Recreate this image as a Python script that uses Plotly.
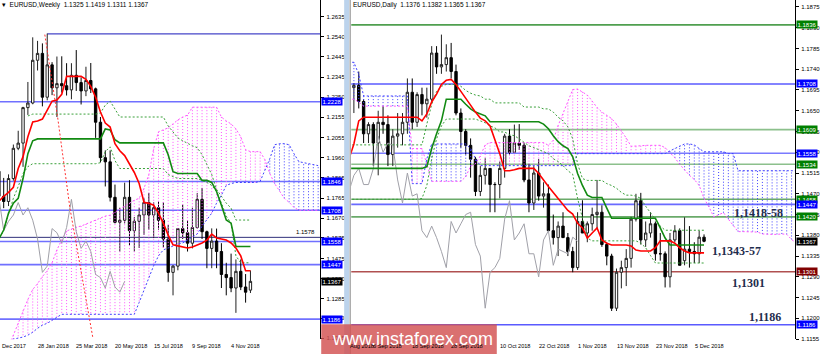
import plotly.graph_objects as go

W, H = 820, 357

# ---------------- WEEKLY DATA (index 0 = week of 26 Nov 2017) ----------------
W_OPEN = [1.1935,1.1895,1.1775,1.1750,1.1860,1.2005,1.2030,1.2200,1.2222,1.2427,1.2460,1.2250,1.2405,1.2295,
          1.2315,1.2305,1.2285,1.2355,1.2320,1.2280,1.2330,1.2290,1.2130,1.1960,1.1940,1.1770,1.1650,1.1660,
          1.1770,1.1610,1.1655,1.1685,1.1745,1.1685,1.1720,1.1660,1.1570,1.1410,1.1440,1.1620,1.1600,1.1550,
          1.1625,1.1760,1.1605,1.1525,1.1560,1.1510,1.1400,1.1385,1.1335,1.1415,1.1340,1.1325]
W_HIGH = [1.1961,1.1895,1.1863,1.1880,1.2023,1.2089,1.2204,1.2323,1.2537,1.2520,1.2508,1.2555,1.2418,1.2445,
          1.2446,1.2413,1.2413,1.2476,1.2345,1.2396,1.2414,1.2296,1.2155,1.1995,1.1995,1.1831,1.1720,1.1840,
          1.1852,1.1675,1.1720,1.1765,1.1791,1.1746,1.1750,1.1746,1.1637,1.1445,1.1622,1.1734,1.1660,1.1720,
          1.1790,1.1815,1.1610,1.1621,1.1620,1.1550,1.1456,1.1500,1.1472,1.1472,1.1402,1.1419]
W_LOW = [1.1829,1.1730,1.1718,1.1728,1.1850,1.1996,1.1916,1.2165,1.2216,1.2378,1.2206,1.2235,1.2260,1.2155,
         1.2272,1.2258,1.2240,1.2280,1.2215,1.2255,1.2270,1.2055,1.1937,1.1822,1.1750,1.1645,1.1510,1.1645,
         1.1540,1.1510,1.1527,1.1590,1.1615,1.1575,1.1615,1.1530,1.1365,1.1300,1.1420,1.1570,1.1510,1.1525,
         1.1620,1.1570,1.1430,1.1430,1.1430,1.1335,1.1300,1.1315,1.1216,1.1325,1.1265,1.1311]
W_CLOSE = [1.1895,1.1775,1.1750,1.1860,1.2005,1.2030,1.2200,1.2222,1.2427,1.2460,1.2250,1.2405,1.2295,1.2315,
           1.2305,1.2285,1.2355,1.2320,1.2280,1.2330,1.2290,1.2130,1.1960,1.1940,1.1770,1.1650,1.1660,1.1770,
           1.1610,1.1655,1.1685,1.1745,1.1685,1.1720,1.1660,1.1570,1.1410,1.1440,1.1620,1.1600,1.1550,1.1625,
           1.1760,1.1605,1.1525,1.1560,1.1510,1.1400,1.1385,1.1335,1.1415,1.1340,1.1315,1.1367]
W_TENKAN = [1.1732,1.1751,1.1775,1.1794,1.1818,1.1908,1.1965,1.2060,1.2131,1.2136,1.2145,1.2188,1.2231,1.2236,
            1.2264,1.2350,1.2350,1.2350,1.2350,1.2336,1.2302,1.2250,1.2179,1.2126,1.2107,1.2027,1.1993,1.1970,
            1.1931,1.1889,1.1836,1.1746,1.1741,1.1732,1.1694,1.1646,1.1589,1.1542,1.1537,1.1532,1.1527,1.1532,
            1.1542,1.1551,1.1565,1.1594,1.1575,1.1570,1.1565,1.1551,1.1527,1.1489,1.1418,1.1418]
W_KIJUN = [1.1551,1.1570,1.1613,1.1694,1.1742,1.1765,1.1860,1.1979,1.2041,1.2050,1.2050,1.2050,1.2050,1.2050,
           1.2050,1.2050,1.2050,1.2050,1.2050,1.2050,1.2050,1.2050,1.2050,1.2098,1.2093,1.2046,1.2031,1.2031,
           1.2031,1.2031,1.2031,1.2031,1.2031,1.2031,1.2031,1.2031,1.1974,1.1893,1.1884,1.1884,1.1884,1.1884,
           1.1884,1.1851,1.1851,1.1841,1.1798,1.1732,1.1661,1.1646,1.1534,1.1534,1.1534,1.1534]
W_SPAN_A = [1.0990,1.1010,1.1014,1.1052,1.1109,1.1166,1.1228,1.1280,1.1328,1.1356,1.1390,1.1418,1.1456,1.1518,
            1.1566,1.1608,1.1618,1.1627,1.1632,1.1642,1.1651,1.1661,1.1670,1.1680,1.1684,1.1699,1.1713,1.1727,
            1.1742,1.1756,1.1765,1.1813,1.1879,1.2003,1.2084,1.2093,1.2103,1.2122,1.2141,1.2155,1.2164,1.2202,
            1.2202,1.2202,1.2202,1.2202,1.2202,1.2155,1.2136,1.2122,1.2098,1.2060,1.1998,1.1989,1.1989,1.1989,
            1.1950,1.1884,1.1836,1.1803,1.1765,1.1746,1.1722,1.1708,1.1708,1.1708,1.1708,1.1708]
W_SPAN_B = [1.1052,1.1062,1.1071,1.1080,1.1090,1.1095,1.1100,1.1109,1.1123,1.1142,1.1157,1.1166,1.1180,1.1195,
            1.1209,1.1209,1.1209,1.1209,1.1209,1.1209,1.1209,1.1209,1.1209,1.1209,1.1209,1.1209,1.1209,1.1209,
            1.1209,1.1209,1.1266,1.1328,1.1385,1.1442,1.1489,1.1518,1.1527,1.1537,1.1546,1.1551,1.1566,1.1580,
            1.1594,1.1632,1.1661,1.1694,1.1742,1.1780,1.1827,1.1836,1.1841,1.1841,1.1841,1.1841,1.1841,1.1846,
            1.1898,1.1955,1.2022,1.2027,1.2027,1.2022,1.1979,1.1941,1.1936,1.1931,1.1927,1.1922]
W_UPPER = [None,None,None,None,None,None,None,1.2160,1.2169,1.2169,1.2169,1.2169,1.2169,1.2169,
           1.2169,1.2169,1.2169,1.2169,1.2169,1.2169,1.2169,1.2169,1.2174,1.2212,1.2231,1.2193,1.2155,1.2155,
           1.2155,1.2155,1.2155,1.2155,1.2155,1.2155,1.2155,1.2155,1.2112,1.2084,1.2055,1.2041,1.2027,1.2017,
           1.2008,1.1974,1.1927,1.1879,1.1808,1.1775,1.1742,1.1718,1.1661,1.1661,1.1661,1.1661]
W_LOWER = [1.1527,1.1566,1.1613,1.1694,1.1765,1.1822,1.1884,1.1917,1.1931,1.1931,1.1931,1.1931,1.1931,1.1931,
           1.1931,1.1931,1.1931,1.1931,1.1931,1.1931,1.1931,1.1931,1.1936,1.1989,1.2012,1.1946,1.1908,1.1908,
           1.1908,1.1908,1.1908,1.1908,1.1908,1.1908,1.1908,1.1908,1.1879,1.1870,1.1860,1.1860,1.1860,1.1860,
           1.1860,1.1851,1.1841,1.1827,1.1798,1.1742,1.1680,1.1646,1.1489,1.1456,1.1456,1.1456]
W_TREND_N = [10.5, 13.2, 15.7, 16.7, 20.4]
W_TREND_P = [1.2550, 1.2145, 1.1717, 1.1584, 1.1100]
W_DATE_LABELS = ["Dec 2017", "28 Jan 2018", "25 Mar 2018", "20 May 2018", "15 Jul 2018", "9 Sep 2018", "4 Nov 2018"]
W_DATE_POS = [1.65, 9, 17, 25, 33, 41, 49]
W_TICKS = ["1.2635","1.2540","1.2445","1.2345","1.2250","1.2155","1.2055","1.1960","1.1865","1.1765",
           "1.1670","1.1575","1.1475","1.1380","1.1285","1.1190","1.1095"]
W_LEVELS = [1.2228, 1.1846, 1.1708, 1.1558, 1.1447, 1.1186]
W_TOP_LEVEL = 1.2554
W_THIN_LEVEL = 1.1578
W_BOXES = [("1.2228", "#0000ff"), ("1.1846", "#0000ff"), ("1.1708", "#0000ff"), ("1.1558", "#0000ff"),
           ("1.1447", "#0000ff"), ("1.1367", "#000000"), ("1.1186", "#0000ff")]

# ---------------- DAILY DATA (index 0 = 27 Aug 2018) ----------------
D_OPEN = [1.1620,1.1680,1.1700,1.1705,1.1670,1.1600,1.1620,1.1580,1.1625,1.1620,1.1555,1.1595,1.1600,1.1625,
          1.1690,1.1625,1.1685,1.1665,1.1675,1.1775,1.1745,1.1750,1.1765,1.1735,1.1645,1.1605,1.1575,1.1545,
          1.1475,1.1510,1.1525,1.1490,1.1490,1.1525,1.1595,1.1560,1.1580,1.1575,1.1500,1.1450,1.1515,1.1465,
          1.1470,1.1390,1.1375,1.1400,1.1375,1.1345,1.1310,1.1410,1.1385,1.1405,1.1425,1.1430,1.1360,1.1335,
          1.1222,1.1300,1.1310,1.1330,1.1415,1.1455,1.1370,1.1385,1.1405,1.1340,1.1340,1.1290,1.1370,1.1390,
          1.1325,1.1350,1.1345,1.1340,1.1376]
D_HIGH = [1.1688,1.1733,1.1710,1.1735,1.1675,1.1625,1.1625,1.1650,1.1660,1.1640,1.1610,1.1645,1.1645,1.1720,
          1.1720,1.1690,1.1700,1.1700,1.1790,1.1790,1.1815,1.1794,1.1797,1.1750,1.1655,1.1610,1.1590,1.1550,
          1.1530,1.1547,1.1525,1.1495,1.1540,1.1600,1.1610,1.1620,1.1621,1.1580,1.1535,1.1530,1.1545,1.1495,
          1.1490,1.1425,1.1410,1.1430,1.1385,1.1355,1.1430,1.1456,1.1410,1.1440,1.1500,1.1445,1.1365,1.1340,
          1.1308,1.1325,1.1350,1.1420,1.1470,1.1472,1.1410,1.1430,1.1410,1.1385,1.1345,1.1385,1.1402,1.1395,
          1.1419,1.1400,1.1365,1.1390,1.1382]
D_LOW = [1.1610,1.1665,1.1645,1.1655,1.1580,1.1580,1.1530,1.1510,1.1600,1.1530,1.1530,1.1570,1.1575,1.1600,
         1.1610,1.1615,1.1640,1.1635,1.1670,1.1730,1.1730,1.1735,1.1720,1.1640,1.1570,1.1555,1.1505,1.1465,
         1.1465,1.1490,1.1430,1.1430,1.1460,1.1505,1.1555,1.1560,1.1565,1.1495,1.1430,1.1435,1.1455,1.1440,
         1.1390,1.1360,1.1335,1.1375,1.1335,1.1300,1.1305,1.1385,1.1365,1.1390,1.1395,1.1355,1.1315,1.1216,
         1.1216,1.1265,1.1270,1.1310,1.1410,1.1360,1.1355,1.1375,1.1325,1.1325,1.1267,1.1267,1.1365,1.1315,
         1.1315,1.1310,1.1320,1.1320,1.1365]
D_CLOSE = [1.1680,1.1700,1.1705,1.1670,1.1600,1.1620,1.1580,1.1625,1.1620,1.1555,1.1595,1.1600,1.1625,1.1690,
           1.1625,1.1685,1.1665,1.1675,1.1775,1.1745,1.1750,1.1765,1.1735,1.1645,1.1605,1.1575,1.1545,1.1475,
           1.1510,1.1525,1.1490,1.1490,1.1525,1.1595,1.1560,1.1580,1.1575,1.1500,1.1450,1.1515,1.1465,1.1470,
           1.1390,1.1375,1.1400,1.1375,1.1345,1.1310,1.1410,1.1385,1.1405,1.1425,1.1430,1.1360,1.1335,1.1222,
           1.1300,1.1310,1.1330,1.1415,1.1455,1.1370,1.1385,1.1405,1.1340,1.1340,1.1290,1.1370,1.1390,1.1315,
           1.1350,1.1345,1.1340,1.1376,1.1367]
D_TENKAN = [1.1535,1.1546,1.1578,1.1628,1.1636,1.1636,1.1636,1.1636,1.1636,1.1636,1.1636,1.1636,1.1636,1.1636,
            1.1636,1.1636,1.1628,1.1643,1.1669,1.1686,1.1707,1.1716,1.1718,1.1707,1.1692,1.1677,1.1660,1.1647,
            1.1634,1.1628,1.1617,1.1589,1.1557,1.1520,1.1520,1.1522,1.1525,1.1525,1.1525,1.1525,1.1514,1.1499,
            1.1486,1.1473,1.1460,1.1445,1.1434,1.1426,1.1406,1.1396,1.1374,1.1385,1.1396,1.1370,1.1363,1.1359,
            1.1359,1.1359,1.1359,1.1357,1.1348,1.1346,1.1346,1.1346,1.1353,1.1368,1.1368,1.1368,1.1363,1.1353,
            1.1346,1.1342,1.1342,1.1342,1.1342]
D_KIJUN = [1.1525,1.1525,1.1525,1.1525,1.1525,1.1525,1.1525,1.1525,1.1525,1.1525,1.1525,1.1525,1.1525,1.1525,
           1.1525,1.1525,1.1525,1.1529,1.1568,1.1600,1.1628,1.1675,1.1675,1.1675,1.1675,1.1664,1.1654,1.1647,
           1.1643,1.1639,1.1626,1.1626,1.1626,1.1626,1.1626,1.1626,1.1626,1.1626,1.1626,1.1626,1.1626,1.1621,
           1.1611,1.1596,1.1583,1.1574,1.1568,1.1550,1.1514,1.1488,1.1467,1.1462,1.1462,1.1462,1.1439,1.1417,
           1.1417,1.1417,1.1417,1.1417,1.1417,1.1417,1.1417,1.1417,1.1417,1.1396,1.1374,1.1359,1.1359,1.1359,
           1.1359,1.1359,1.1359,1.1359,1.1359]
D_SPAN_A = [1.1675,1.1675,1.1675,1.1669,1.1660,1.1660,1.1660,1.1660,1.1660,1.1660,1.1660,1.1660,1.1660,1.1660,
            1.1568,1.1568,1.1568,1.1535,1.1497,1.1497,1.1497,1.1497,1.1497,1.1497,1.1497,1.1507,1.1530,1.1535,
            1.1552,1.1576,1.1581,1.1581,1.1581,1.1581,1.1581,1.1581,1.1581,1.1581,1.1581,1.1581,1.1581,1.1581,
            1.1575,1.1586,1.1618,1.1643,1.1668,1.1696,1.1697,1.1691,1.1684,1.1671,1.1657,1.1647,1.1639,1.1633,
            1.1621,1.1607,1.1591,1.1573,1.1573,1.1574,1.1575,1.1575,1.1575,1.1575,1.1570,1.1560,1.1548,1.1534,
            1.1521,1.1510,1.1501,1.1488,1.1460,1.1442,1.1420,1.1424,1.1429,1.1415,1.1401,1.1388,1.1388,1.1388,
            1.1388,1.1387,1.1383,1.1382,1.1382,1.1382,1.1383,1.1382,1.1371,1.1363,1.1361,1.1356,1.1353,1.1351,
            1.1351,1.1351,1.1351]
D_SPAN_B = [1.1755,1.1755,1.1755,1.1729,1.1682,1.1682,1.1682,1.1682,1.1682,1.1682,1.1682,1.1682,1.1682,1.1682,
            1.1492,1.1492,1.1492,1.1546,1.1578,1.1578,1.1578,1.1578,1.1578,1.1578,1.1578,1.1578,1.1568,1.1546,
            1.1531,1.1531,1.1531,1.1531,1.1531,1.1531,1.1531,1.1531,1.1531,1.1531,1.1531,1.1531,1.1531,1.1531,
            1.1531,1.1531,1.1531,1.1531,1.1531,1.1531,1.1557,1.1557,1.1557,1.1557,1.1557,1.1557,1.1557,1.1557,
            1.1557,1.1557,1.1557,1.1557,1.1557,1.1557,1.1557,1.1557,1.1557,1.1557,1.1557,1.1563,1.1568,1.1574,
            1.1578,1.1578,1.1576,1.1568,1.1561,1.1561,1.1561,1.1561,1.1561,1.1557,1.1557,1.1520,1.1520,1.1520,
            1.1520,1.1520,1.1520,1.1520,1.1520,1.1520,1.1520,1.1520,1.1520,1.1520,1.1520,1.1520,1.1520,1.1520,
            1.1520,1.1520,1.1520]
D_UPPER = [1.1576,1.1576,1.1576,1.1576,1.1576,1.1576,1.1576,1.1576,1.1576,1.1576,1.1576,1.1576,1.1576,1.1576,
           1.1576,1.1576,1.1576,1.1621,1.1664,1.1692,1.1703,1.1707,1.1707,1.1707,1.1703,1.1694,1.1688,1.1684,
           1.1682,1.1675,1.1675,1.1667,1.1667,1.1667,1.1667,1.1667,1.1667,1.1658,1.1658,1.1658,1.1658,1.1654,
           1.1654,1.1647,1.1636,1.1628,1.1615,1.1589,1.1535,1.1503,1.1499,1.1499,1.1499,1.1499,1.1492,1.1488,
           1.1482,1.1473,1.1467,1.1467,1.1465,1.1460,1.1443,1.1428,1.1415,1.1400,1.1391,1.1391,1.1391,1.1391,
           1.1391,1.1391,1.1391,1.1391,1.1391]
D_LOWER = [1.1458,1.1458,1.1458,1.1458,1.1458,1.1458,1.1458,1.1458,1.1458,1.1458,1.1458,1.1458,1.1458,1.1458,
           1.1458,1.1458,1.1460,1.1488,1.1546,1.1589,1.1617,1.1632,1.1632,1.1632,1.1632,1.1632,1.1632,1.1632,
           1.1628,1.1624,1.1617,1.1613,1.1604,1.1604,1.1598,1.1596,1.1589,1.1581,1.1574,1.1570,1.1566,1.1561,
           1.1557,1.1546,1.1540,1.1531,1.1520,1.1512,1.1460,1.1417,1.1374,1.1368,1.1368,1.1368,1.1368,1.1368,
           1.1368,1.1368,1.1368,1.1368,1.1368,1.1363,1.1353,1.1336,1.1320,1.1320,1.1320,1.1320,1.1320,1.1320,
           1.1320,1.1320,1.1320,1.1320,1.1320]
D_DATE_LABELS = ["Aug 2018", "6 Sep 2018", "18 Sep 2018", "28 Sep 2018", "10 Oct 2018", "22 Oct 2018",
                 "1 Nov 2018", "13 Nov 2018", "23 Nov 2018", "5 Dec 2018"]
D_DATE_POS = [0.85, 5.5, 13.5, 21.5, 31.7, 39.7, 47.7, 55.7, 63.7, 71.7]
D_TICKS = ["1.1875","1.1830","1.1785","1.1740","1.1695","1.1650","1.1605","1.1560","1.1515","1.1470",
           "1.1425","1.1380","1.1335","1.1290","1.1245","1.1200","1.1155"]
D_LEVELS = [(1.1836, "#4f9f4f"), (1.1708, "#5a5aff"), (1.1609, "#8cc08c"), (1.1558, "#7a7aff"),
            (1.1534, "#8cc08c"), (1.1458, "#6aaa6a"), (1.1447, "#6a6aff"), (1.1420, "#6aaa6a"),
            (1.1301, "#b05050"), (1.1186, "#5a5aff")]
D_BOXES = [("1.1836", "#008000"), ("1.1708", "#0000ff"), ("1.1609", "#008000"), ("1.1558", "#0000ff"),
           ("1.1534", "#008000"), ("1.1458", "#008000"), ("1.1447", "#0000ff"), ("1.1420", "#008000"),
           ("1.1367", "#000000"), ("1.1301", "#800000"), ("1.1186", "#0000ff")]
NOTES = [("1,1418-58", 85.2, 1.1428), ("1,1343-57", 80.7, 1.1346), ("1,1301", 83.2, 1.1277), ("1,1186", 86.5, 1.1202)]

# ---------------- figure ----------------
fig = go.Figure()
SMALL = dict(family="Liberation Sans, Arial", size=6, color="#000")
DATEF = dict(family="Liberation Sans, Arial", size=5.6, color="#000")

def add_panel(xa, ya, op, hi, lo, cl, tenkan, kijun, span_a, span_b, upper, lower, shift):
    n_c = len(cl)
    xs_c = list(range(n_c))
    xs_s = list(range(len(span_a)))
    px, py, bx, by = [], [], [], []
    for x, a, b in zip(xs_s, span_a, span_b):
        if a >= b:
            px += [x, x, None]; py += [a, b, None]
        else:
            bx += [x, x, None]; by += [a, b, None]
    common = dict(xaxis=xa, yaxis=ya, hoverinfo="skip", showlegend=False, mode="lines")
    fig.add_trace(go.Scatter(x=px, y=py, line=dict(color="#ff55ff", width=1, dash="1px,2px"), **common))
    fig.add_trace(go.Scatter(x=bx, y=by, line=dict(color="#4040ff", width=1, dash="1px,2px"), **common))
    fig.add_trace(go.Scatter(x=xs_s, y=span_a, line=dict(color="#ff55ff", width=1, dash="2px,2px"), **common))
    fig.add_trace(go.Scatter(x=xs_s, y=span_b, line=dict(color="#4040ff", width=1, dash="2px,2px"), **common))
    fig.add_trace(go.Scatter(x=xs_c, y=upper, line=dict(color="#3aa03a", width=1, dash="2px,2px"), **common))
    fig.add_trace(go.Scatter(x=xs_c, y=lower, line=dict(color="#3aa03a", width=1, dash="2px,2px"), **common))
    # chikou: closes drawn 'shift' bars back
    fig.add_trace(go.Scatter(x=[i - shift for i in xs_c[shift:]], y=cl[shift:],
                             line=dict(color="#a0a0a8", width=1), **common))
    fig.add_trace(go.Scatter(x=xs_c, y=kijun, line=dict(color="#128a12", width=1.6), **common))
    fig.add_trace(go.Scatter(x=xs_c, y=tenkan, line=dict(color="#ff0000", width=1.6), **common))
    fig.add_trace(go.Candlestick(x=xs_c, open=op, high=hi, low=lo, close=cl, xaxis=xa, yaxis=ya,
                                 whiskerwidth=0, hoverinfo="skip", showlegend=False,
                                 increasing=dict(line=dict(color="#202020", width=1), fillcolor="#ffffff"),
                                 decreasing=dict(line=dict(color="#000000", width=1), fillcolor="#000000")))

add_panel("x", "y", W_OPEN, W_HIGH, W_LOW, W_CLOSE, W_TENKAN, W_KIJUN, W_SPAN_A, W_SPAN_B, W_UPPER, W_LOWER, 26)
add_panel("x2", "y2", D_OPEN, D_HIGH, D_LOW, D_CLOSE, D_TENKAN, D_KIJUN, D_SPAN_A, D_SPAN_B, D_UPPER, D_LOWER, 26)

# weekly dotted red trend line
fig.add_trace(go.Scatter(x=W_TREND_N, y=W_TREND_P, xaxis="x", yaxis="y", mode="lines", hoverinfo="skip",
                         showlegend=False, line=dict(color="#ff3030", width=1, dash="2px,2px")))

# axes geometry (pixels -> paper)
LX0, LX1, RX0, RX1 = 0, 321, 352, 797
PLOT_BOTTOM = 342
ydom = [(H - PLOT_BOTTOM) / H, 1]
W_XR = [(LX0 + 6) / 4.85, (LX1 + 6) / 4.85]
D_XR = [(RX0 - 345) / 4.875, (RX1 - 345) / 4.875]
W_YR = [1.1090, 1.2716]
D_YR = [1.1155, 1.1890]

def wk_paper(pos):
    return (LX0 + (pos - W_XR[0]) / (W_XR[1] - W_XR[0]) * (LX1 - LX0)) / W

def dy_paper(pos):
    return (RX0 + (pos - D_XR[0]) / (D_XR[1] - D_XR[0]) * (RX1 - RX0)) / W

ax_common = dict(showgrid=False, zeroline=False, showticklabels=False, ticks="")
yax_common = dict(side="right", showgrid=False, zeroline=False, ticks="outside", ticklen=3, tickcolor="#000",
                  tickfont=SMALL, showline=True, linecolor="#000", linewidth=1, ticklabelstandoff=1)
fig.update_layout(
    width=W, height=H, margin=dict(l=0, r=0, t=0, b=0), autosize=False,
    paper_bgcolor="white", plot_bgcolor="white", showlegend=False,
    xaxis=dict(domain=[LX0 / W, LX1 / W], range=W_XR, rangeslider=dict(visible=False), **ax_common),
    xaxis2=dict(domain=[RX0 / W, RX1 / W], range=D_XR, rangeslider=dict(visible=False), anchor="y2", **ax_common),
    yaxis=dict(domain=ydom, range=W_YR, tickvals=[float(t) for t in W_TICKS], ticktext=W_TICKS, **yax_common),
    yaxis2=dict(domain=ydom, range=D_YR, anchor="x2", tickvals=[float(t) for t in D_TICKS], ticktext=D_TICKS,
                **yax_common),
)

shapes = []
# weekly levels
shapes.append(dict(type="line", xref="x", yref="y", x0=11, x1=W_XR[1], y0=W_TOP_LEVEL, y1=W_TOP_LEVEL,
                   line=dict(color="#4646c8", width=1.2), layer="below"))
for lv in W_LEVELS:
    shapes.append(dict(type="line", xref="x", yref="y", x0=W_XR[0], x1=W_XR[1], y0=lv, y1=lv,
                       line=dict(color="#7070ff", width=1.6), layer="below"))
shapes.append(dict(type="line", xref="x", yref="y", x0=W_XR[0], x1=W_XR[1], y0=W_THIN_LEVEL, y1=W_THIN_LEVEL,
                   line=dict(color="#30307a", width=1), layer="below"))
for lv, col in D_LEVELS:
    shapes.append(dict(type="line", xref="x2", yref="y2", x0=D_XR[0], x1=D_XR[1], y0=lv, y1=lv,
                       line=dict(color=col, width=1.6), layer="below"))
# separator strip between the panels
shapes.append(dict(type="rect", xref="paper", yref="paper", x0=345 / W, x1=350 / W, y0=0, y1=1,
                   fillcolor="#bcd3ec", line=dict(width=0), layer="above"))
shapes.append(dict(type="line", xref="paper", yref="paper", x0=351 / W, x1=351 / W, y0=0, y1=1,
                   line=dict(color="#808080", width=1), layer="above"))
# watermark band
shapes.append(dict(type="rect", xref="paper", yref="paper", x0=322 / W, x1=498 / W, y0=0, y1=(H - 327) / H,
                   fillcolor="rgba(210,80,80,0.82)", line=dict(width=0), layer="above"))
fig.update_layout(shapes=shapes)

ann = []
def box(text, color, xpx, yref, yv):
    ann.append(dict(text=text, xref="paper", x=xpx / W, xanchor="left", yref=yref, y=yv, yanchor="middle",
                    showarrow=False, bgcolor=color, borderpad=0.5,
                    font=dict(family="Liberation Sans, Arial", size=6, color="white")))

for t, c in W_BOXES:
    box(t, c, 322, "y", float(t))
for t, c in D_BOXES:
    box(t, c, 798, "y2", float(t))

ann.append(dict(text="1.1578", xref="x", x=64.3, xanchor="center", yref="y", y=W_THIN_LEVEL, yanchor="bottom",
                showarrow=False, font=SMALL))

ybot = (H - 349) / H
for t, p in zip(W_DATE_LABELS, W_DATE_POS):
    ann.append(dict(text=t, xref="paper", x=wk_paper(p - 0.4), xanchor="left", yref="paper", y=ybot,
                    yanchor="middle", showarrow=False, font=DATEF))
for t, p in zip(D_DATE_LABELS, D_DATE_POS):
    ann.append(dict(text=t, xref="paper", x=dy_paper(p), xanchor="left", yref="paper", y=ybot,
                    yanchor="middle", showarrow=False, font=DATEF))

ann.append(dict(text="\u25BE  EURUSD,Weekly  1.1325 1.1419 1.1311 1.1367", xref="paper", x=0, xanchor="left",
                yref="paper", y=1, yanchor="top", yshift=1, showarrow=False,
                font=dict(family="Liberation Sans, Arial", size=6.5, color="#000")))
ann.append(dict(text="EURUSD,Daily  1.1376 1.1382 1.1365 1.1367", xref="paper", x=352 / W, xanchor="left",
                yref="paper", y=1, yanchor="top", yshift=1, showarrow=False,
                font=dict(family="Liberation Sans, Arial", size=6.5, color="#000")))

for t, xv, yv in NOTES:
    ann.append(dict(text="<b>%s</b>" % t, xref="x2", x=xv, xanchor="center", yref="y2", y=yv, yanchor="middle",
                    showarrow=False, font=dict(family="Liberation Serif, Times New Roman", size=12, color="#1f2d4d")))

ann.append(dict(text="www.instaforex.com", xref="paper", x=331 / W, xanchor="left", yref="paper",
                y=(H - 342) / H, yanchor="middle", showarrow=False,
                font=dict(family="Liberation Sans, Arial", size=18, color="white")))
fig.update_layout(annotations=ann)

fig.write_html("out.html")
